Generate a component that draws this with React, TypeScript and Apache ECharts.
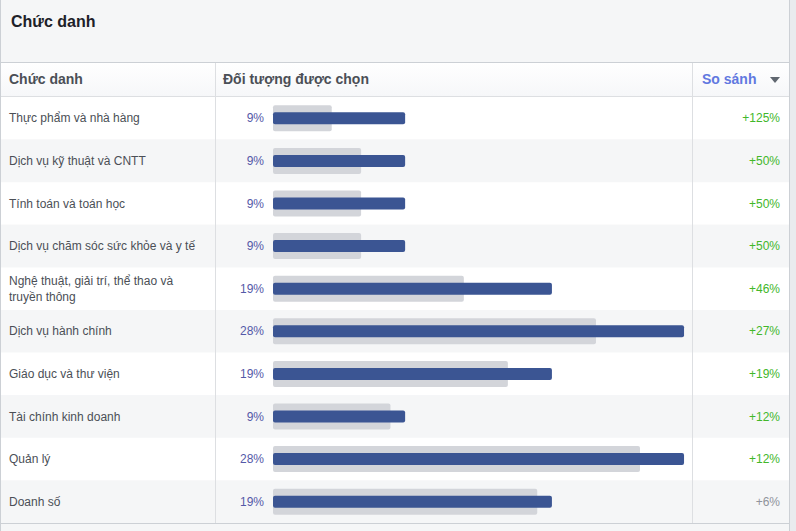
import React, { useEffect, useRef } from "react";
import * as echarts from "echarts";

const categories = [
  "Thực phẩm và nhà hàng",
  "Dịch vụ kỹ thuật và CNTT",
  "Tính toán và toán học",
  "Dịch vụ chăm sóc sức khỏe và y tế",
  "Nghệ thuật, giải trí, thể thao và truyền thông",
  "Dịch vụ hành chính",
  "Giáo dục và thư viện",
  "Tài chính kinh doanh",
  "Quản lý",
  "Doanh số",
];
const selectedAudience = [9, 9, 9, 9, 19, 28, 19, 9, 28, 19];
const baseline = [4, 6, 6, 6, 13, 22, 16, 8, 25, 18];
const comparison = [125, 50, 50, 50, 46, 27, 19, 12, 12, 6];

const FONT = "'Liberation Sans', Arial, sans-serif";

function wrapLabel(text: string, maxWidth: number): string {
  const canvas = document.createElement("canvas");
  const ctx = canvas.getContext("2d");
  if (!ctx) return text;
  ctx.font = `12px ${FONT}`;
  const words = text.split(" ");
  const lines: string[] = [];
  let cur = "";
  for (const w of words) {
    const next = cur ? cur + " " + w : w;
    if (cur && ctx.measureText(next).width > maxWidth) {
      lines.push(cur);
      cur = w;
    } else {
      cur = next;
    }
  }
  if (cur) lines.push(cur);
  return lines.join("\n");
}

export default function App() {
  const ref = useRef<HTMLDivElement>(null);
  useEffect(() => {
    if (!ref.current) return;
    const chart = echarts.init(ref.current, undefined, { renderer: "svg" });
    const lineColor = "#dddfe2";
    chart.setOption({
      animation: false,
      backgroundColor: "#f5f6f7",
      textStyle: { fontFamily: FONT },
      grid: { left: 1, right: 7, top: 97, bottom: 8, containLabel: false },
      xAxis: {
        type: "value",
        min: -18.53,
        max: 35.15,
        show: false,
      },
      yAxis: [
        {
          type: "category",
          data: categories,
          inverse: true,
          position: "left",
          axisLine: { show: false },
          axisTick: { show: false },
          splitLine: { show: false },
          splitArea: { show: true, areaStyle: { color: ["#ffffff", "#f5f6f7"] } },
          axisLabel: {
            inside: true,
            margin: 8,
            color: "#4b4f56",
            fontSize: 12,
            fontFamily: FONT,
            lineHeight: 16,
            formatter: (v: string) => wrapLabel(v, 192),
          },
        },
        {
          type: "category",
          data: categories,
          inverse: true,
          position: "right",
          axisLine: { show: false },
          axisTick: { show: false },
          splitLine: { show: false },
          axisLabel: {
            inside: true,
            margin: 9,
            fontSize: 12,
            fontFamily: FONT,
            formatter: (_v: string, i: number) => {
              const c = comparison[i];
              return c >= 10 ? `{g|+${c}%}` : `{n|+${c}%}`;
            },
            rich: {
              g: { color: "#42b72a", fontSize: 12, fontFamily: FONT },
              n: { color: "#90949c", fontSize: 12, fontFamily: FONT },
            },
          },
        },
      ],
      series: [
        {
          type: "bar",
          name: "Cơ sở",
          data: baseline,
          yAxisIndex: 0,
          barWidth: 26,
          itemStyle: { color: "#d3d5da", borderRadius: 2 },
          silent: true,
        },
        {
          type: "bar",
          name: "Đối tượng được chọn",
          data: selectedAudience,
          yAxisIndex: 1,
          barWidth: 12,
          itemStyle: { color: "#3b5593", borderRadius: 2 },
          label: {
            show: true,
            position: "left",
            distance: 9,
            formatter: "{c}%",
            color: "#5459a8",
            fontSize: 12,
            fontFamily: FONT,
          },
        },
      ],
      graphic: [
        { type: "rect", z: 5, shape: { x: 790, y: 0, width: 6, height: 531 }, style: { fill: "#e9ebee" } },
        {
          type: "rect",
          z: 5,
          shape: { x: 1, y: 62, width: 788, height: 35 },
          style: {
            fill: new echarts.graphic.LinearGradient(0, 0, 0, 1, [
              { offset: 0, color: "#ffffff" },
              { offset: 1, color: "#f6f7f9" },
            ]),
          },
        },
        { type: "line", z: 10, shape: { x1: 0.5, y1: 0, x2: 0.5, y2: 531 }, style: { stroke: "#ccd0d5", lineWidth: 1 } },
        { type: "line", z: 10, shape: { x1: 789.5, y1: 0, x2: 789.5, y2: 531 }, style: { stroke: "#ccd0d5", lineWidth: 1 } },
        { type: "line", z: 10, shape: { x1: 1, y1: 62.5, x2: 789, y2: 62.5 }, style: { stroke: "#ccd0d5", lineWidth: 1 } },
        { type: "line", z: 10, shape: { x1: 1, y1: 96.5, x2: 789, y2: 96.5 }, style: { stroke: lineColor, lineWidth: 1 } },
        { type: "line", z: 10, shape: { x1: 1, y1: 523.5, x2: 789, y2: 523.5 }, style: { stroke: "#ccd0d5", lineWidth: 1 } },
        { type: "line", z: 10, shape: { x1: 215.5, y1: 63, x2: 215.5, y2: 523 }, style: { stroke: lineColor, lineWidth: 1 } },
        { type: "line", z: 10, shape: { x1: 692.5, y1: 63, x2: 692.5, y2: 523 }, style: { stroke: lineColor, lineWidth: 1 } },
        {
          type: "text",
          z: 10,
          x: 11,
          y: 21,
          style: { text: "Chức danh", fill: "#1d2129", font: `bold 16px ${FONT}`, verticalAlign: "middle" },
        },
        {
          type: "text",
          z: 10,
          x: 9,
          y: 79,
          style: { text: "Chức danh", fill: "#4b4f56", font: `bold 14px ${FONT}`, verticalAlign: "middle" },
        },
        {
          type: "text",
          z: 10,
          x: 223,
          y: 79,
          style: { text: "Đối tượng được chọn", fill: "#4b4f56", font: `bold 14px ${FONT}`, verticalAlign: "middle" },
        },
        {
          type: "text",
          z: 10,
          x: 702,
          y: 79,
          style: { text: "So sánh", fill: "#6178e0", font: `bold 14px ${FONT}`, verticalAlign: "middle" },
        },
        {
          type: "polygon",
          z: 10,
          shape: { points: [[770, 77], [780, 77], [775, 83]] },
          style: { fill: "#606770" },
        },
      ],
    });
    return () => chart.dispose();
  }, []);
  return (
    <div
      ref={ref}
      style={{ position: "absolute", left: 0, top: 0, width: 796, height: 531 }}
    />
  );
}
